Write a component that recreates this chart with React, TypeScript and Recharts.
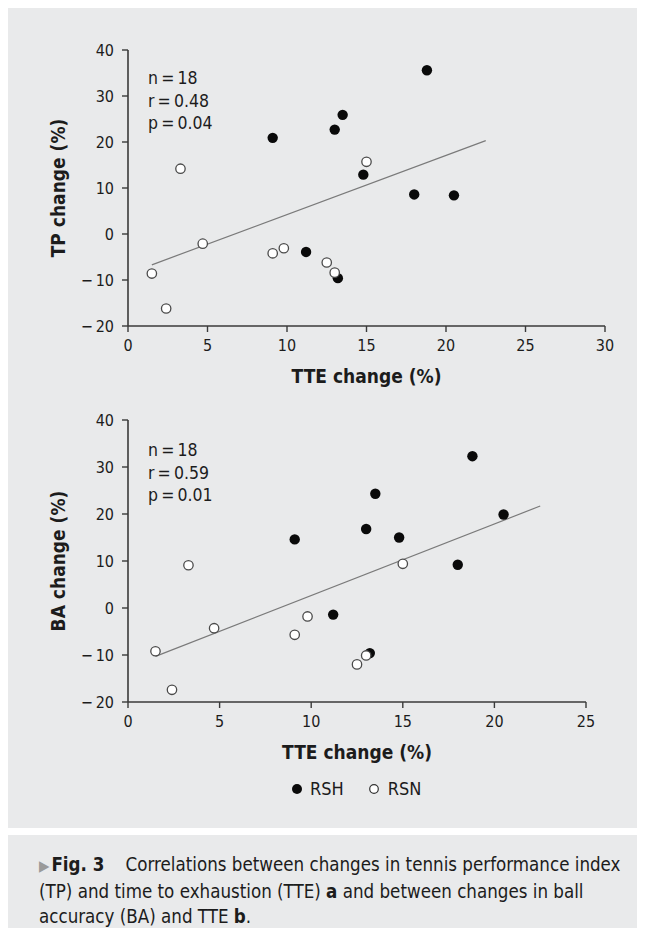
import { ScatterChart, Scatter, XAxis, YAxis, ReferenceLine } from "recharts";

const FONT = "'Liberation Sans Narrow', 'DejaVu Sans Condensed', 'Open Sans', sans-serif";
const PANEL_BG = "#e9eaeb";
const INK = "#1c1c1c";
const AXIS = "#3a3a3a";

const TP_X_TICKS = [0, 5, 10, 15, 20, 25, 30];
const BA_X_TICKS = [0, 5, 10, 15, 20, 25];
const Y_TICKS = [-20, -10, 0, 10, 20, 30, 40];

// TTE change (%) per player, same players in both panels
const rshTte = [9.1, 11.2, 13.0, 13.2, 13.5, 14.8, 18.0, 18.8, 20.5];
const rshTp = [20.9, -3.9, 22.7, -9.6, 25.9, 12.9, 8.6, 35.6, 8.4];
const rshBa = [14.6, -1.4, 16.8, -9.6, 24.3, 15.0, 9.2, 32.3, 19.9];

const rsnTte = [1.5, 2.4, 3.3, 4.7, 9.1, 9.8, 12.5, 13.0, 15.0];
const rsnTp = [-8.6, -16.2, 14.2, -2.1, -4.2, -3.1, -6.2, -8.4, 15.7];
const rsnBa = [-9.2, -17.4, 9.1, -4.3, -5.7, -1.8, -12.0, -10.1, 9.4];

const tpFit = [
  { x: 1.5, y: -6.7 },
  { x: 22.5, y: 20.3 },
];
const baFit = [
  { x: 1.5, y: -10.3 },
  { x: 22.5, y: 21.7 },
];

const tpStats = ["n\u2009=\u200918", "r\u2009=\u20090.48", "p\u2009=\u20090.04"];
const baStats = ["n\u2009=\u200918", "r\u2009=\u20090.59", "p\u2009=\u20090.01"];

const toPoints = (xs: number[], ys: number[]) => xs.map((x, i) => ({ x, y: ys[i] }));

const fmtTick = (v: number) => (v < 0 ? `\u2212\u2009${Math.abs(v)}` : `${v}`);

const FilledDot = (props: any) => <circle cx={props.cx} cy={props.cy} r={5.2} fill="#0a0a0a" />;
const OpenDot = (props: any) => (
  <circle cx={props.cx} cy={props.cy} r={4.7} fill="#ffffff" stroke="#4a4a4a" strokeWidth={1.3} />
);

interface PanelProps {
  height: number;
  top: number;
  right: number;
  xMax: number;
  xTicks: number[];
  yLabel: string;
  rsh: { x: number; y: number }[];
  rsn: { x: number; y: number }[];
  fit: { x: number; y: number }[];
}

function Panel({ height, top, right, xMax, xTicks, yLabel, rsh, rsn, fit }: PanelProps) {
  const tick = { fill: INK, fontSize: 16, fontFamily: FONT };
  return (
    <ScatterChart width={637} height={height} margin={{ top, right, left: 0, bottom: 0 }}>
      <XAxis
        type="number"
        dataKey="x"
        domain={[0, xMax]}
        ticks={xTicks}
        tick={tick}
        tickSize={6}
        tickMargin={8}
        axisLine={{ stroke: AXIS, strokeWidth: 1.6 }}
        tickLine={{ stroke: AXIS, strokeWidth: 1.4 }}
        height={67}
        label={{
          value: "TTE change (%)",
          position: "insideBottom",
          offset: 10,
          fill: INK,
          fontSize: 19,
          fontWeight: 700,
          fontFamily: FONT,
        }}
      />
      <YAxis
        type="number"
        dataKey="y"
        domain={[-20, 40]}
        ticks={Y_TICKS}
        tickFormatter={fmtTick}
        tick={tick}
        tickSize={6}
        tickMargin={8}
        width={120}
        axisLine={{ stroke: AXIS, strokeWidth: 1.6 }}
        tickLine={{ stroke: AXIS, strokeWidth: 1.4 }}
        label={{
          value: yLabel,
          angle: -90,
          position: "insideLeft",
          offset: 50,
          fill: INK,
          fontSize: 19,
          fontWeight: 700,
          fontFamily: FONT,
          style: { textAnchor: "middle" },
        }}
      />
      <ReferenceLine segment={fit} stroke="#7a7a7a" strokeWidth={1.2} ifOverflow="visible" />
      <Scatter name="RSH" data={rsh} shape={FilledDot} isAnimationActive={false} />
      <Scatter name="RSN" data={rsn} shape={OpenDot} isAnimationActive={false} />
    </ScatterChart>
  );
}

function Stats({ lines, top }: { lines: string[]; top: number }) {
  return (
    <div
      style={{
        position: "absolute",
        left: 140,
        top,
        fontFamily: FONT,
        fontSize: 17.5,
        lineHeight: "22.5px",
        color: INK,
      }}
    >
      {lines.map((l) => (
        <div key={l}>{l}</div>
      ))}
    </div>
  );
}

export default function App() {
  return (
    <div style={{ width: 637, fontFamily: FONT, color: INK }}>
      <div style={{ position: "relative", width: 637, height: 820, background: PANEL_BG }}>
        <div style={{ position: "absolute", left: 0, top: 0 }}>
          <Panel
            height={385}
            top={42}
            right={40}
            xMax={30}
            xTicks={TP_X_TICKS}
            yLabel="TP change (%)"
            rsh={toPoints(rshTte, rshTp)}
            rsn={toPoints(rsnTte, rsnTp)}
            fit={tpFit}
          />
        </div>
        <div style={{ position: "absolute", left: 0, top: 385 }}>
          <Panel
            height={376}
            top={27}
            right={59}
            xMax={25}
            xTicks={BA_X_TICKS}
            yLabel="BA change (%)"
            rsh={toPoints(rshTte, rshBa)}
            rsn={toPoints(rsnTte, rsnBa)}
            fit={baFit}
          />
        </div>
        <Stats lines={tpStats} top={59} />
        <Stats lines={baStats} top={431} />
        <div
          style={{
            position: "absolute",
            left: 283,
            top: 769,
            display: "flex",
            alignItems: "center",
            fontSize: 18,
            lineHeight: "24px",
          }}
        >
          <svg width={12} height={12} style={{ marginRight: 7 }}>
            <circle cx={6} cy={6} r={5} fill="#0a0a0a" />
          </svg>
          <span>RSH</span>
          <svg width={12} height={12} style={{ marginLeft: 24, marginRight: 8 }}>
            <circle cx={6} cy={6} r={4.3} fill="#ffffff" stroke="#333" strokeWidth={1.2} />
          </svg>
          <span>RSN</span>
        </div>
      </div>
      <div
        style={{
          marginTop: 7,
          height: 93,
          boxSizing: "border-box",
          background: PANEL_BG,
          padding: "17px 0 0 31px",
          fontSize: 18.6,
          lineHeight: "25px",
          whiteSpace: "nowrap",
        }}
      >
        <span style={{ color: "#9a9a9a", fontSize: 15, marginRight: 2 }}>{"\u25B6"}</span>
        <b>Fig. 3</b>
        {"\u00A0\u00A0\u00A0 Correlations between changes in tennis performance index"}
        <br />
        {"(TP) and time to exhaustion (TTE) "}
        <b>a</b>
        {" and between changes in ball"}
        <br />
        {"accuracy (BA) and TTE "}
        <b>b</b>.
      </div>
    </div>
  );
}
